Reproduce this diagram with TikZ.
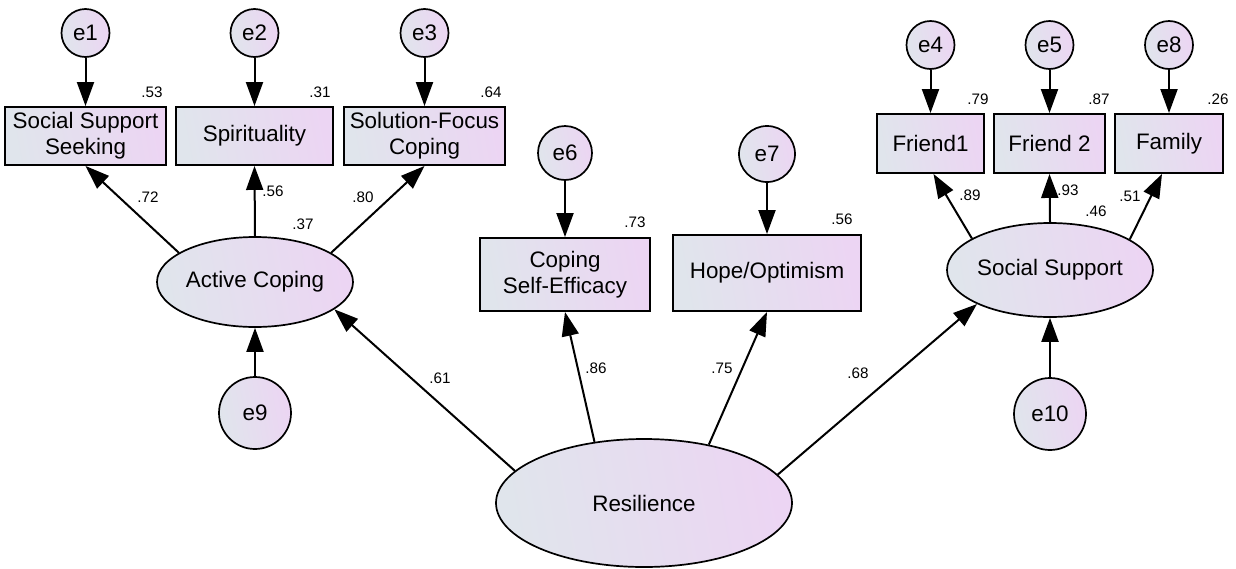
\documentclass[tikz,border=0pt]{standalone}
\usepackage{fontspec}
\setmainfont{Liberation Sans}
\usetikzlibrary{shapes.geometric,arrows.meta}
\definecolor{fillL}{RGB}{224,229,236}
\definecolor{fillR}{RGB}{236,213,243}
\newcommand\mainfs{\fontsize{11.2}{12.8}\selectfont}
\newcommand\cfs{\fontsize{7.6}{8.5}\selectfont}
\tikzset{
  shaded/.style={left color=fillL, right color=fillR, shading angle=100},
  obs/.style={rectangle, draw, line width=0.95pt, inner sep=0pt, align=center, shaded, font=\mainfs},
  lat/.style={ellipse, draw, line width=0.85pt, inner sep=0pt, shaded, font=\mainfs},
  err/.style={circle, draw, line width=0.85pt, inner sep=0pt, shaded, font=\mainfs},
  pth/.style={-{Triangle[length=12pt,width=8.5pt]}, line width=1pt},
  coef/.style={font=\cfs, inner sep=0pt}
}
\begin{document}
\begin{tikzpicture}[x=0.5pt,y=-0.5pt]
\useasboundingbox (0,0) rectangle (1236,568);
% observed boxes
\node[obs, minimum width=80.5pt, minimum height=29pt] (b1) at (85.5,136) {Social Support\\Seeking};
\node[obs, minimum width=78.5pt, minimum height=29pt] (b2) at (254.5,136) {Spirituality};
\node[obs, minimum width=80.5pt, minimum height=29pt] (b3) at (424.5,136) {Solution-Focus\\Coping};
\node[obs, minimum width=85pt, minimum height=36.5pt] (cse) at (565,274.5) {Coping\\Self-Efficacy};
\node[obs, minimum width=94pt, minimum height=38pt] (hope) at (767,273) {Hope/Optimism};
\node[obs, minimum width=53.5pt, minimum height=29.5pt] (f1) at (930.5,143.5) {Friend1};
\node[obs, minimum width=55.5pt, minimum height=29.5pt] (f2) at (1049.5,143.5) {Friend 2};
\node[obs, minimum width=54pt, minimum height=29.5pt] (fam) at (1169,143.5) {Family};
% latent
\node[lat, minimum width=98pt, minimum height=45pt] (ac) at (255,282) {Active Coping};
\node[lat, minimum width=92pt, minimum height=47pt] (ss) at (1050,270) {Social Support};
\node[lat, minimum width=148pt, minimum height=64pt] (res) at (644,503) {Resilience};
% errors
\node[err, minimum size=24pt] (e1) at (85.5,33) {e1};
\node[err, minimum size=24pt] (e2) at (254.5,33) {e2};
\node[err, minimum size=24pt] (e3) at (424.5,33) {e3};
\node[err, minimum size=27pt] (e6) at (565,153) {e6};
\node[err, minimum size=28pt] (e7) at (767,154) {e7};
\node[err, minimum size=24pt] (e4) at (930.5,45) {e4};
\node[err, minimum size=24pt] (e5) at (1049.5,45) {e5};
\node[err, minimum size=24pt] (e8) at (1169,45) {e8};
\node[err, minimum size=36pt] (e9) at (255,413) {e9};
\node[err, minimum size=36pt] (e10) at (1050,414) {e10};
% error paths
\draw[pth] (e1) -- (b1);
\draw[pth] (e2) -- (b2);
\draw[pth] (e3) -- (b3);
\draw[pth] (e6) -- (cse);
\draw[pth] (e7) -- (hope);
\draw[pth] (e4) -- (f1);
\draw[pth] (e5) -- (f2);
\draw[pth] (e8) -- (fam);
\draw[pth] (e9) -- (ac);
\draw[pth] (e10) -- (ss);
% structural paths
\draw[pth] (res.166) -- (ac.-19);
\draw[pth] (res.129) -- (cse.south);
\draw[pth] (res.42) -- (hope.south);
\draw[pth] (res.12) -- (ss.205);
\draw[pth] (ac.159) -- (b1.south);
\draw[pth] (ac.north) -- (b2.south);
\draw[pth] (ac.21) -- (b3.south);
\draw[pth] (ss.158) -- ([xshift=1.5pt]f1.south);
\draw[pth] (ss.north) -- (f2.south);
\draw[pth] (ss.21) -- ([xshift=-3.5pt]fam.south);
% coefficients
\node[coef] (r1) at (152,92) {.53};
\node[coef] (r2) at (320,92) {.31};
\node[coef] (r3) at (491,92) {.64};
\node[coef] (l1) at (148,197) {.72};
\node[coef] (l2) at (273,191) {.56};
\node[coef] (l3) at (363,197) {.80};
\node[coef] (rac) at (303,224) {.37};
\node[coef] (rcse) at (635,222) {.73};
\node[coef] (rhope) at (842,219) {.56};
\node[coef] (r4) at (978,99) {.79};
\node[coef] (r5) at (1099,99) {.87};
\node[coef] (r8) at (1218,99) {.26};
\node[coef] (l4) at (970,195) {.89};
\node[coef] (l5) at (1068,190) {.93};
\node[coef] (l8) at (1130,196) {.51};
\node[coef] (rss) at (1096,211) {.46};
\node[coef] (g1) at (440,378) {.61};
\node[coef] (g2) at (596,368) {.86};
\node[coef] (g3) at (722,368) {.75};
\node[coef] (g4) at (858,373) {.68};
\end{tikzpicture}
\end{document}
